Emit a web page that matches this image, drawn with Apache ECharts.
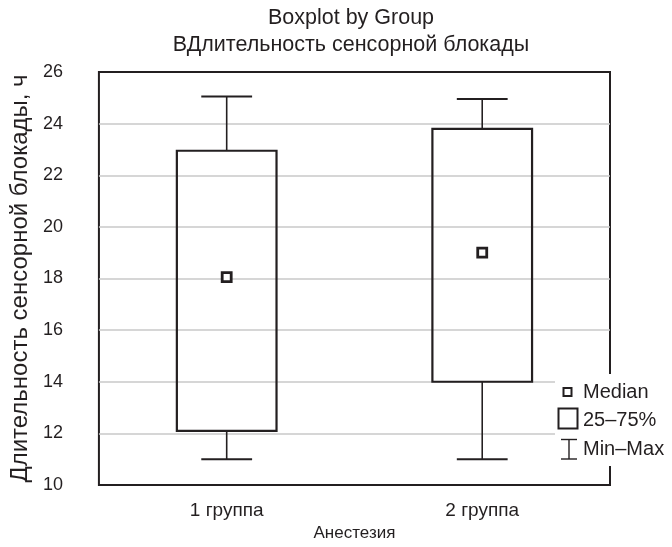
<!DOCTYPE html>
<html>
<head>
<meta charset="utf-8">
<script src="https://cdn.jsdelivr.net/npm/echarts@6/dist/echarts.min.js"></script>
<style>
  html, body { margin: 0; padding: 0; background: #fff; }
  #chart { width: 672px; height: 547px; }
</style>
</head>
<body>
<div id="chart"></div>
<script>
// Groups along the x axis
const groups = ['1 группа', '2 группа'];
// Five-number summary per group
const minVals    = [11, 11];
const q1Vals     = [12.1, 14];
const medianVals = [18.05, 19];
const q3Vals     = [22.95, 23.8];
const maxVals    = [25.05, 24.95];
// Y axis scale
const yMin = 10, yMax = 26, yStep = 2;

const ink = '#231f20';
const fontFamily = '"Liberation Sans", Arial, sans-serif';

const boxData = groups.map((g, i) => [i, minVals[i], q1Vals[i], medianVals[i], q3Vals[i], maxVals[i]]);

// Box, whiskers with caps, and a hollow square at the median
function renderBox(params, api) {
  const i = api.value(0);
  const pMin = api.coord([i, api.value(1)]);
  const pQ1 = api.coord([i, api.value(2)]);
  const pMed = api.coord([i, api.value(3)]);
  const pQ3 = api.coord([i, api.value(4)]);
  const pMax = api.coord([i, api.value(5)]);
  const band = api.size([1, 0])[0];
  const boxW = band * 0.39;
  const capW = boxW * 0.51;
  const x = pQ1[0];
  const stem = { stroke: ink, lineWidth: 1.6, fill: null };
  const cap = { stroke: ink, lineWidth: 2 };
  return {
    type: 'group',
    children: [
      { type: 'line', shape: { x1: x, y1: pMax[1], x2: x, y2: pQ3[1] }, style: stem },
      { type: 'line', shape: { x1: x, y1: pQ1[1], x2: x, y2: pMin[1] }, style: stem },
      { type: 'line', shape: { x1: x - capW / 2, y1: pMax[1], x2: x + capW / 2, y2: pMax[1] }, style: cap },
      { type: 'line', shape: { x1: x - capW / 2, y1: pMin[1], x2: x + capW / 2, y2: pMin[1] }, style: cap },
      { type: 'rect', shape: { x: x - boxW / 2, y: pQ3[1], width: boxW, height: pQ1[1] - pQ3[1] },
        style: { stroke: ink, lineWidth: 2.2, fill: 'rgba(255,255,255,0)' } },
      { type: 'rect', shape: { x: x - 4.5, y: pMed[1] - 4.5, width: 9, height: 9 },
        style: { stroke: ink, lineWidth: 2.8, fill: '#fff' } }
    ]
  };
}

// Legend key at lower right, drawn over the plot frame
const legendText = { fill: ink, font: '20px ' + fontFamily, textVerticalAlign: 'middle' };
const legendGraphic = [
  { type: 'rect', shape: { x: 555, y: 374, width: 117, height: 92 }, style: { fill: '#fff' }, z: 100 },
  { type: 'rect', shape: { x: 563.5, y: 388, width: 8, height: 8 }, style: { stroke: ink, lineWidth: 2, fill: '#fff' }, z: 101 },
  { type: 'text', x: 583, y: 392, style: Object.assign({ text: 'Median' }, legendText), z: 101 },
  { type: 'rect', shape: { x: 558.5, y: 408.5, width: 19, height: 20 }, style: { stroke: ink, lineWidth: 2, fill: '#fff' }, z: 101 },
  { type: 'text', x: 583, y: 420, style: Object.assign({ text: '25–75%' }, legendText), z: 101 },
  { type: 'line', shape: { x1: 561, y1: 439.5, x2: 577, y2: 439.5 }, style: { stroke: ink, lineWidth: 1.4 }, z: 101 },
  { type: 'line', shape: { x1: 569, y1: 439.5, x2: 569, y2: 459 }, style: { stroke: ink, lineWidth: 1.4 }, z: 101 },
  { type: 'line', shape: { x1: 561, y1: 459, x2: 577, y2: 459 }, style: { stroke: ink, lineWidth: 1.4 }, z: 101 },
  { type: 'text', x: 583, y: 449, style: Object.assign({ text: 'Min–Max' }, legendText), z: 101 }
];

const chart = echarts.init(document.getElementById('chart'), null, { renderer: 'canvas' });
chart.setOption({
  animation: false,
  backgroundColor: '#fff',
  textStyle: { fontFamily },
  title: {
    text: 'Boxplot by Group\nВДлительность сенсорной блокады',
    left: 346,
    top: 0,
    textAlign: 'center',
    textStyle: { color: ink, fontSize: 21.5, fontWeight: 'normal', lineHeight: 27, fontFamily }
  },
  grid: {
    left: 98, right: 62, top: 72, bottom: 56,
    show: true, borderColor: ink, borderWidth: 2, backgroundColor: 'transparent'
  },
  xAxis: {
    type: 'category',
    data: groups,
    name: 'Анестезия',
    nameLocation: 'middle',
    nameGap: 40,
    nameTextStyle: { color: ink, fontSize: 17, fontFamily },
    axisLine: { show: false },
    axisTick: { show: false },
    axisLabel: { color: ink, fontSize: 19, margin: 16, fontFamily },
    splitLine: { show: false }
  },
  yAxis: {
    type: 'value',
    min: yMin, max: yMax, interval: yStep,
    name: 'Длительность сенсорной блокады, ч',
    nameLocation: 'middle',
    nameRotate: 90,
    nameGap: 63,
    nameTextStyle: { color: ink, fontSize: 24, fontFamily },
    axisLine: { show: false },
    axisTick: { show: false },
    axisLabel: { color: ink, fontSize: 18, margin: 36, fontFamily },
    splitLine: { show: true, showMinLine: false, showMaxLine: false, lineStyle: { color: '#c8c8c8', width: 1.5 } }
  },
  graphic: legendGraphic,
  series: [{
    type: 'custom',
    renderItem: renderBox,
    data: boxData,
    encode: { x: 0, y: [1, 2, 3, 4, 5] },
    z: 10
  }]
});
</script>
</body>
</html>
